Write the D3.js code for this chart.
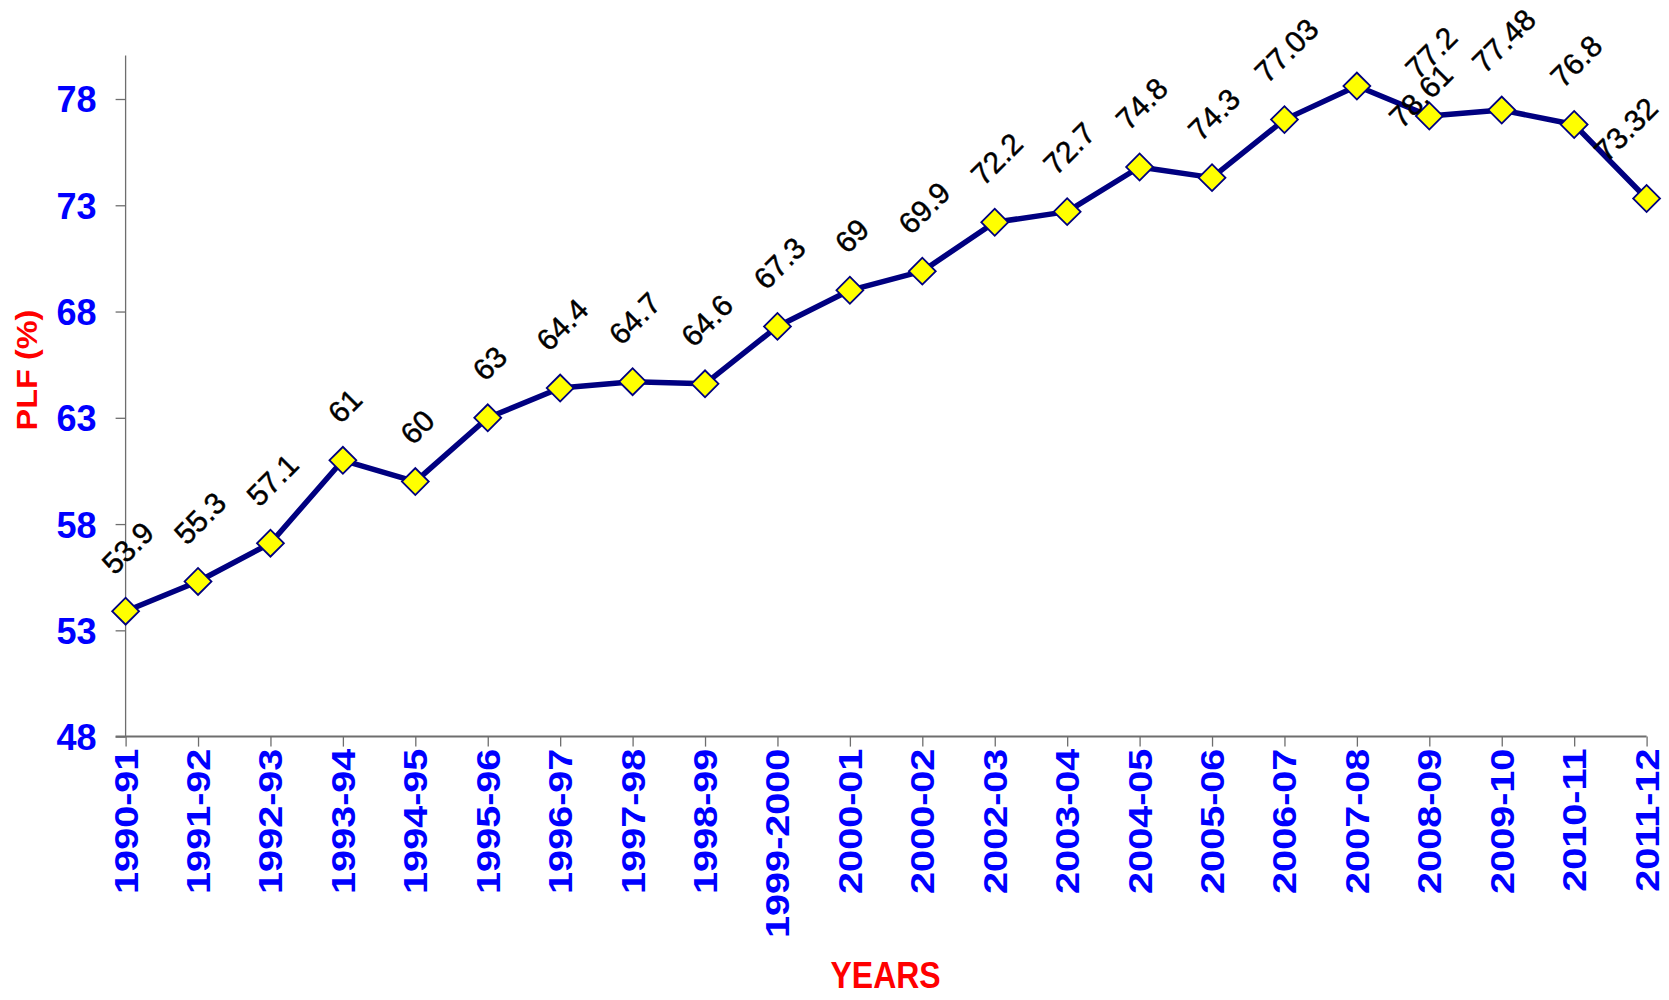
<!DOCTYPE html>
<html>
<head>
<meta charset="utf-8">
<script src="https://cdn.jsdelivr.net/npm/d3@7"></script>
<style>
  html, body { margin: 0; padding: 0; background: #ffffff; }
  svg { display: block; }
  text { font-family: "Liberation Sans", Arial, Helvetica, sans-serif; }
</style>
</head>
<body>
<svg id="chart" width="1669" height="1000"></svg>
<script>
// Plant load factor by financial year
const years = ["1990-91", "1991-92", "1992-93", "1993-94", "1994-95", "1995-96",
  "1996-97", "1997-98", "1998-99", "1999-2000", "2000-01", "2000-02", "2002-03",
  "2003-04", "2004-05", "2005-06", "2006-07", "2007-08", "2008-09", "2009-10",
  "2010-11", "2011-12"];
const plf = [53.9, 55.3, 57.1, 61, 60, 63, 64.4, 64.7, 64.6, 67.3, 69, 69.9, 72.2,
  72.7, 74.8, 74.3, 77.03, 78.61, 77.2, 77.48, 76.8, 73.32];
const yTicks = [48, 53, 58, 63, 68, 73, 78];
const yDomain = [48, 80];

const width = 1669;
const svg = d3.select("#chart");
const plotLeft = 125.6, plotRight = 1646.6, plotTop = 56.5, plotBottom = 736.6;

const x = d3.scalePoint().domain(years).range([plotLeft, plotRight]);
const y = d3.scaleLinear().domain(yDomain).range([plotBottom, plotTop]);

const axisColor = "#6e6e6e";

// Y axis
const yAxis = svg.append("g")
  .attr("transform", `translate(${plotLeft},0)`)
  .call(d3.axisLeft(y).tickValues(yTicks).tickSize(10).tickPadding(19).tickFormat(d3.format("d")));
yAxis.select(".domain").attr("stroke", axisColor).attr("stroke-width", 1.3)
  .attr("d", `M0,${plotTop - 1}V${plotBottom}`);
yAxis.selectAll(".tick line").attr("stroke", axisColor).attr("stroke-width", 1.3);
yAxis.selectAll(".tick text")
  .attr("fill", "#0000ff")
  .attr("font-size", 36)
  .attr("font-weight", "bold")
  .attr("dy", "0.36em");

// X axis
const xAxis = svg.append("g")
  .attr("transform", `translate(0,${plotBottom})`)
  .call(d3.axisBottom(x).tickSize(10).tickPadding(0));
xAxis.select(".domain").attr("stroke", axisColor).attr("stroke-width", 2)
  .attr("d", `M${plotLeft - 10},0H${plotRight}`);
xAxis.selectAll(".tick line").attr("stroke", axisColor).attr("stroke-width", 1.3);
xAxis.selectAll(".tick text")
  .attr("fill", "#0000ff")
  .attr("font-size", 33)
  .attr("font-weight", "bold")
  .attr("text-anchor", "end")
  .attr("dy", null)
  .attr("y", 0)
  .attr("transform", "translate(0,12) rotate(-90) scale(1.2,1) translate(0,11.5)");

// Axis titles
svg.append("text")
  .attr("transform", "translate(37,370) rotate(-90) scale(1.12,1)")
  .attr("text-anchor", "middle")
  .attr("fill", "#ff0000")
  .attr("font-size", 29)
  .attr("font-weight", "bold")
  .text("PLF (%)");

svg.append("text")
  .attr("transform", "translate(885.6,988) scale(1,1.15)")
  .attr("text-anchor", "middle")
  .attr("fill", "#ff0000")
  .attr("font-size", 32)
  .attr("font-weight", "bold")
  .text("YEARS");

// Series line
const line = d3.line().x((d, i) => x(years[i])).y(d => y(d));
svg.append("path")
  .datum(plf)
  .attr("d", line)
  .attr("fill", "none")
  .attr("stroke", "#000080")
  .attr("stroke-width", 5.5)
  .attr("stroke-linejoin", "round");

// Diamond markers
const diamond = d3.symbol().type(d3.symbolSquare).size(19 * 19);
svg.append("g").selectAll("path")
  .data(plf)
  .join("path")
  .attr("d", diamond)
  .attr("transform", (d, i) => `translate(${x(years[i])},${y(d)}) rotate(45)`)
  .attr("fill", "#ffff00")
  .attr("stroke", "#000080")
  .attr("stroke-width", 1.8);

// Value labels, rotated 45°, sitting above each marker
const labelFont = 30;
const labelGap = 35;
// the top value's label is moved down beside its neighbour to stay on the canvas
const labelNudge = { "2007-08": [62, 79] };
const labels = svg.append("g");
plf.forEach((v, i) => {
  const t = labels.append("text")
    .attr("font-size", labelFont)
    .attr("fill", "#000000")
    .attr("stroke", "#000000")
    .attr("stroke-width", 0.45)
    .attr("text-anchor", "middle")
    .attr("dominant-baseline", "central")
    .text(String(v));
  const len = t.node().getComputedTextLength();
  const half = (len + 0.72 * labelFont) * Math.SQRT1_2 / 2;
  const nudge = labelNudge[years[i]] || [0, 0];
  // keep the rotated box inside the right edge of the canvas
  const cx = Math.min(x(years[i]) + 2 + nudge[0], width - 9 - half);
  const cy = y(v) - labelGap - half + nudge[1];
  t.attr("transform", `translate(${cx},${cy}) rotate(-45)`);
});
</script>
</body>
</html>
